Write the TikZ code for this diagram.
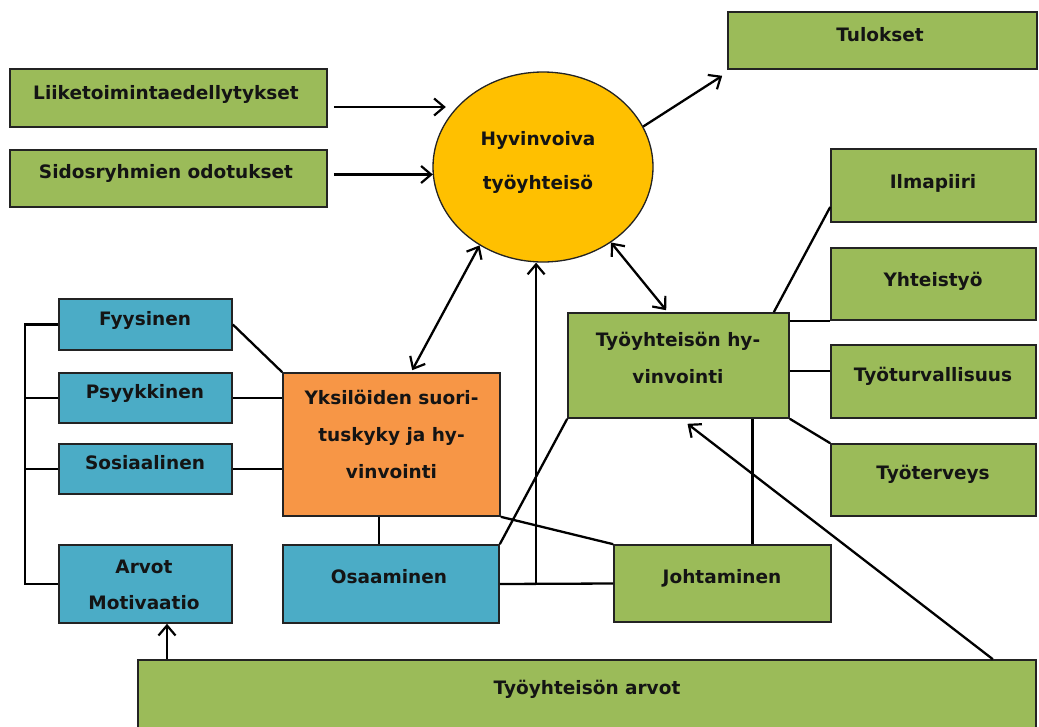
\documentclass[tikz,border=0pt]{standalone}
\usepackage{fontspec}
\setmainfont{DejaVu Sans}
\usetikzlibrary{arrows.meta,calc,shapes.geometric}
\definecolor{grn}{RGB}{155,187,89}
\definecolor{blu}{RGB}{75,172,198}
\definecolor{org}{RGB}{247,150,70}
\definecolor{yel}{RGB}{255,192,0}
\definecolor{txt}{RGB}{20,20,20}
\definecolor{brd}{RGB}{35,35,35}
\tikzset{
  box/.style={draw=brd,line width=1.6pt,minimum width=#1,inner sep=0pt,anchor=center},
  gbox/.style={box=#1,fill=grn},
  bbox/.style={box=#1,fill=blu},
  lbl/.style={font=\fontsize{18.5}{37}\selectfont\bfseries,text=txt,align=center,text height=13pt,text depth=0pt,inner sep=0pt},
  con/.style={line width=2.3pt,draw=black},
  thin/.style={line width=1.1pt,draw=black},
  tip/.tip={Straight Barb[length=10pt,width=17pt,line width=2.2pt]},
  arr/.style={con,-tip},
  darr/.style={con,tip-tip}
}
\begin{document}
\begin{tikzpicture}[x=1pt,y=-1pt]
\useasboundingbox[fill=white] (0,0) rectangle (1039,726);
% boxes
\node[gbox=317pt,minimum height=58pt] (liike) at (168.5,98) {};
\node[gbox=317pt,minimum height=57pt] (sid) at (168.5,178.5) {};
\node[gbox=309pt,minimum height=57pt] (tul) at (882.5,40.5) {};
\node[ellipse,draw=brd,line width=1.3pt,fill=yel,minimum width=220pt,minimum height=190pt,inner sep=0pt] (ell) at (543,167) {};
\node[gbox=205pt,minimum height=73pt] (ilm) at (933.5,185.5) {};
\node[gbox=205pt,minimum height=72pt] (yht) at (933.5,284) {};
\node[gbox=205pt,minimum height=73pt] (tur) at (933.5,381.5) {};
\node[gbox=205pt,minimum height=72pt] (ter) at (933.5,480) {};
\node[gbox=221pt,minimum height=105pt] (hyv) at (678.5,365.5) {};
\node[box=217pt,fill=org,minimum height=143pt] (yks) at (391.5,444.5) {};
\node[bbox=173pt,minimum height=51pt] (fyy) at (145.5,324.5) {};
\node[bbox=173pt,minimum height=50pt] (psy) at (145.5,398) {};
\node[bbox=173pt,minimum height=50pt] (sos) at (145.5,469) {};
\node[bbox=173pt,minimum height=78pt] (arv) at (145.5,584) {};
\node[bbox=216pt,minimum height=78pt] (osa) at (391,584) {};
\node[gbox=217pt,minimum height=77pt] (joh) at (722.5,583.5) {};
\node[gbox=898pt,minimum height=75pt] (tya) at (587,697.5) {};
% labels
\node[lbl] (liike-t) at (166,93) {Liiketoimintaedellytykset};
\node[lbl] (sid-t) at (166,172) {Sidosryhmien odotukset};
\node[lbl] (tul-t) at (880,35) {Tulokset};
\node[lbl,font=\fontsize{18.5}{44}\selectfont\bfseries] (ell-t) at (538,183) {Hyvinvoiva\\työyhteisö};
\node[lbl] (ilm-t) at (933,182) {Ilmapiiri};
\node[lbl] (yht-t) at (933,280) {Yhteistyö};
\node[lbl] (tur-t) at (933,375) {Työturvallisuus};
\node[lbl] (ter-t) at (933,473) {Työterveys};
\node[lbl] (hyv-t) at (678,377) {Työyhteisön hy-\\vinvointi};
\node[lbl] (yks-t) at (391.5,472) {Yksilöiden suori-\\tuskyky ja hy-\\vinvointi};
\node[lbl] (fyy-t) at (145,319) {Fyysinen};
\node[lbl] (psy-t) at (145,392) {Psyykkinen};
\node[lbl] (sos-t) at (145,463) {Sosiaalinen};
\node[lbl,font=\fontsize{18.5}{36}\selectfont\bfseries] (arv-t) at (144,603) {Arvot\\Motivaatio};
\node[lbl] (osa-t) at (389,577) {Osaaminen};
\node[lbl] (joh-t) at (722,577) {Johtaminen};
\node[lbl] (tya-t) at (587,688) {Työyhteisön arvot};
% coordinates
\coordinate (bus) at (25,0);
\coordinate (a1s) at ($(liike.east)+(6,9)$);
\coordinate (a1e) at ($(liike.east)+(118,9)$);
\coordinate (a2s) at ($(sid.east)+(6,-4)$);
\coordinate (a2e) at ($(sid.east)+(105,-4)$);
\coordinate (mid) at ($(osa.east)!0.32!(joh.west)$);
\coordinate (tulend) at ($(tul.south west)+(-5,6)$);
\coordinate (yksend) at ($(yks.north west)+(130,-2)$);
\coordinate (hyvend) at ($(hyv.north west)+(99,-2)$);
\coordinate (johtop) at ($(joh.north)+(30,0)$);
\coordinate (ykslow) at ($(yks.south)+(-12.5,0)$);
\coordinate (tyastart) at ($(tya.north east)+(-44,0)$);
\coordinate (hyvlow) at ($(hyv.south)+(9,5)$);
\coordinate (arvlow) at ($(arv.south)+(21.5,0)$);
\coordinate (ilmpt) at ($(ilm.west)+(0,21.5)$);
\coordinate (hyvtop) at ($(hyv.north east)+(-16,0)$);
\coordinate (turpt) at ($(tur.west)+(0,-10.5)$);
% connectors
\draw[arr] (a1s) -- (a1e);
\draw[arr] (a2s) -- (a2e);
\draw[arr] (ell.22) -- (tulend);
\draw[darr] (ell.231) -- (yksend);
\draw[darr] (ell.312) -- (hyvend);
\draw[arr] (mid) -- (mid |- ell.south);
\draw[con] (osa.east) -- (joh.west);
\draw[con] (osa.north east) -- (hyv.south west);
\draw[con] (yks.south east) -- (joh.north west);
\draw[con] (johtop) -- (johtop |- hyv.south);
\draw[thin] (ykslow) -- (ykslow |- osa.north);
\draw[arr] (tyastart) -- (hyvlow);
\draw[arr] (arvlow |- tya.north) -- (arvlow);
\draw[con] (ilmpt) -- (hyvtop);
\draw[con] (yht.south west) -- (yht.south west -| hyv.east);
\draw[con] (turpt) -- (turpt -| hyv.east);
\draw[con] (hyv.south east) -- (ter.north west);
\draw[con] (fyy.east) -- (yks.north west);
\draw[con] (psy.east) -- (psy.east -| yks.west);
\draw[con] (sos.east) -- (sos.east -| yks.west);
\draw[con] (fyy.west) -- (fyy.west -| bus) |- (arv.west);
\draw[con] (psy.west) -- (psy.west -| bus);
\draw[con] (sos.west) -- (sos.west -| bus);
\end{tikzpicture}
\end{document}
